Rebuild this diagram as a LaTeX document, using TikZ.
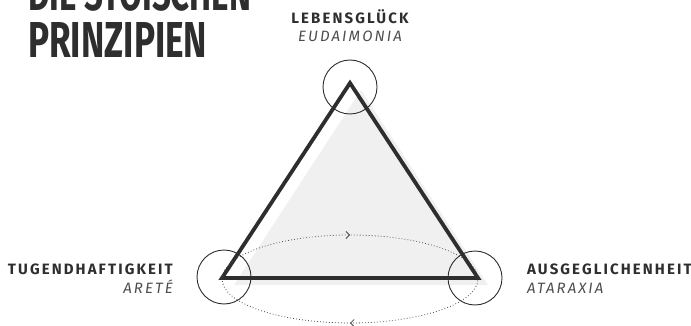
\documentclass[tikz,border=0pt]{standalone}
\usepackage{fontspec}
\usepackage{graphicx}
\setmainfont{Fira Sans}
\newfontfamily\labelfont[LetterSpace=14]{Fira Sans}
\usetikzlibrary{decorations.markings,positioning,arrows.meta}
\definecolor{figInk}{HTML}{2E2E2E}
\definecolor{figShade}{HTML}{F0F0F0}
\definecolor{figDot}{HTML}{4A4A4A}

\begin{document}
\begin{tikzpicture}[
  x=1pt, y=-1pt,
  vertexring/.style={circle, draw=figInk, line width=0.9pt, minimum size=54pt, inner sep=0pt},
  headlabel/.style={font=\labelfont\bfseries\fontsize{15}{17}\selectfont, text=figInk, inner sep=0pt},
  sublabel/.style={font=\labelfont\itshape\fontsize{15}{17}\selectfont, text=figInk!85, inner sep=0pt},
  loopline/.style={draw=figDot, line width=0.8pt, dash pattern=on 0.8pt off 2.2pt,
    postaction=decorate,
    decoration={markings,
      mark=at position 0.25 with {\arrow[solid,line width=0.8pt]{Straight Barb[length=3.5pt,width=7pt]}},
      mark=at position 0.75 with {\arrow[solid,line width=0.8pt]{Straight Barb[length=3.5pt,width=7pt]}}}},
]
\useasboundingbox (0,0) rectangle (691,326);
\clip (0,0) rectangle (691,326);

% Title
\node[anchor=south west, inner sep=0pt, text=figInk] (title1) at (28,12)
  {\resizebox{223pt}{35pt}{\bfseries DIE STOISCHEN}};
\node[anchor=north west, inner sep=0pt, text=figInk] (title2) at (28,22)
  {\resizebox{179pt}{35pt}{\bfseries PRINZIPIEN}};

% Triangle corners
\coordinate (top) at (350,83);
\coordinate (left) at (222,278);
\coordinate (right) at (478,278);

% Shade and triangle
\fill[figShade] ([shift={(11,7)}]top) -- ([shift={(12,7)}]left) -- ([shift={(10,7)}]right) -- cycle;
\draw[figInk, line width=3.8pt, line join=miter] (top) -- (left) -- (right) -- cycle;

% Cycle between the lower corners
\coordinate (mid) at (350,279);
\draw[loopline] (mid) ++(-128,0) arc[start angle=180, end angle=360, x radius=128, y radius=44]
  arc[start angle=0, end angle=180, x radius=128, y radius=44];

% Rings
\node[vertexring] (ringtop) at (350,87) {};
\node[vertexring] (ringleft) at (224,277) {};
\node[vertexring] (ringright) at (475,278) {};

% Labels
\node[headlabel, anchor=base] (gluck) at (350,24) {LEBENSGLÜCK};
\node[sublabel, anchor=base] (eudai) at (350,42) {EUDAIMONIA};
\node[headlabel, anchor=base east] (tugend) at (173,274) {TUGENDHAFTIGKEIT};
\node[sublabel, anchor=base east] (arete) at (173,293) {ARETÉ};
\node[headlabel, anchor=base west] (ausgl) at (527,274) {AUSGEGLICHENHEIT};
\node[sublabel, anchor=base west] (atar) at (527,293) {ATARAXIA};
\end{tikzpicture}
\end{document}
